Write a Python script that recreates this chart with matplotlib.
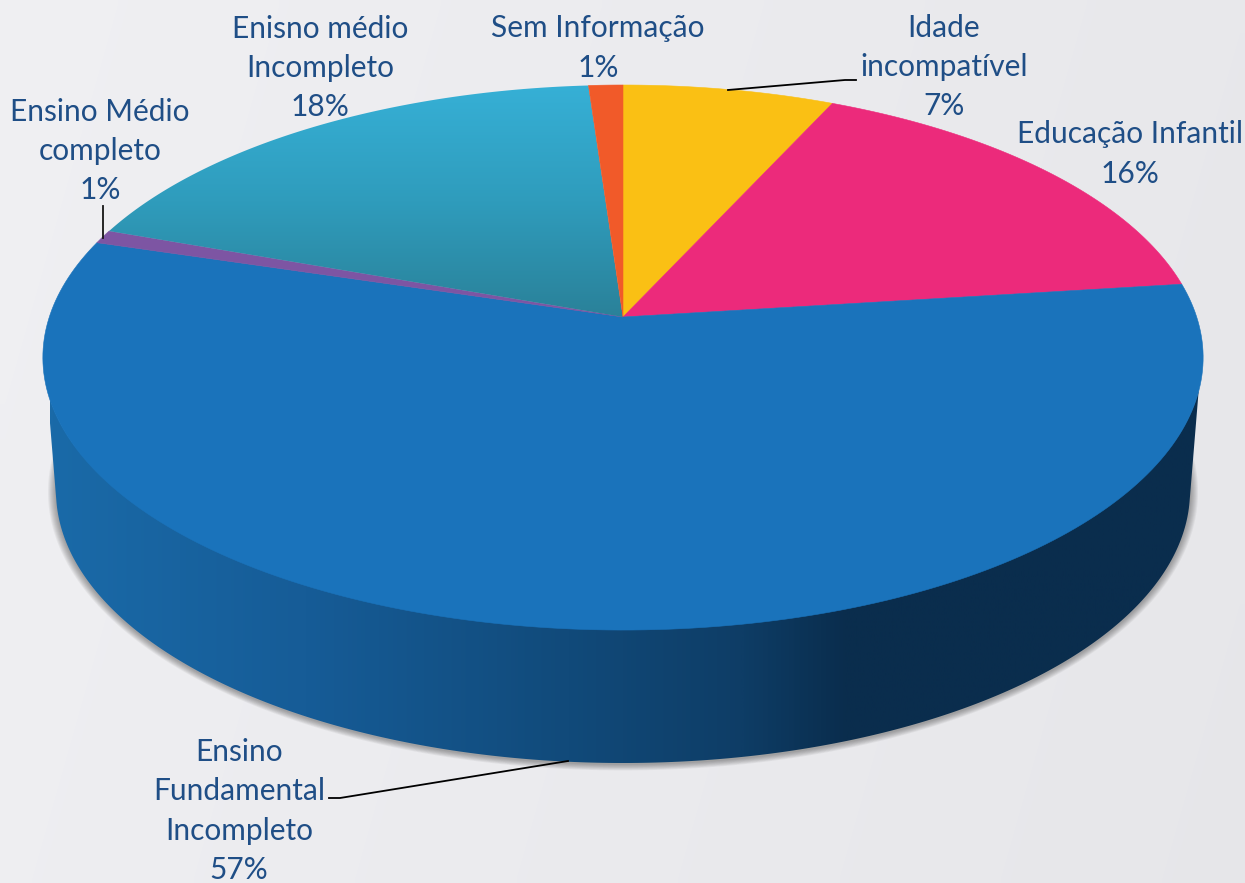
import numpy as np
import matplotlib
matplotlib.use('Agg')
import matplotlib.pyplot as plt
from matplotlib.colors import LinearSegmentedColormap
from matplotlib.patches import Polygon

# clockwise from 12 o'clock
categorias = ['Idade\nincompatível', 'Educação Infantil', 'Ensino\nFundamental\nIncompleto',
              'Ensino Médio\ncompleto', 'Enisno médio\nIncompleto', 'Sem Informação']
valores = [6.8, 16.2, 56.7, 0.8, 18.4, 1.1]
cores = ['#fac014', '#ec2a7b', '#1a73bb', '#7d55a3', '#36b0d6', '#f15a29']

# center of each label block, pixels
pos_label = [(944, 67), (1130, 154), (239, 811), (100, 151), (320, 68), (598, 48)]
TAM_FONTE = 21.5
COR_TEXTO = '#1f4e86'

# picture geometry (pixels)
APEX = (623, 317)
A, B, K = 573.7, 266.5, 0.1487
ELIPSE = (623, 357, 580, 272)
BASE = (623, 491, 567, 272)


def borda(ang):
    # perspective projection of the unit circle, apex is its center
    u, v = np.sin(ang), np.cos(ang)
    d = 1 + K * v
    return APEX[0] + A * u / d, APEX[1] - B * v / d


def elipse(e, t):
    return e[0] + e[2] * np.cos(t), e[1] + e[3] * np.sin(t)


def fundo(ax):
    ny, nx = 90, 125
    yy, xx = np.mgrid[0:1:ny * 1j, 0:1:nx * 1j]
    g = 0.94 - 0.03 * xx - 0.006 * yy
    rgb = np.dstack([g, g, g + 0.012])
    ax.imshow(rgb, extent=(0, 1245, 883, 0), aspect='auto', zorder=0, interpolation='bilinear')


def parede(ax):
    t0 = np.arcsin((390 - ELIPSE[1]) / ELIPSE[3])
    t_sup = np.linspace(np.pi - t0, t0, 300)
    t1 = np.arcsin((500 - BASE[1]) / BASE[3])
    t_inf = np.linspace(t1, np.pi - t1, 300)
    xs, ys = elipse(ELIPSE, t_sup)
    xi, yi = elipse(BASE, t_inf)
    pts = np.column_stack([np.r_[xs, xi], np.r_[ys, yi]])

    # soft shadow under the wall
    for i in range(1, 9):
        e = (BASE[0], BASE[1] + 1, BASE[2] + i, BASE[3] + i * 0.8)
        t = np.linspace(np.arcsin(-0.16), np.pi - np.arcsin(-0.16), 300)
        sx, sy = elipse(e, t)
        ax.add_patch(Polygon(np.column_stack([sx, sy]), closed=True, fc='#303030', ec='none',
                             alpha=0.06, zorder=1))

    cm = LinearSegmentedColormap.from_list('parede', [
        (0.0, '#1a6aa8'), (0.22, '#165c97'), (0.45, '#114a7a'),
        (0.60, '#0e3d66'), (0.69, '#0a2d4d'), (1.0, '#0a2d4d')])
    grad = np.linspace(0, 1, 512).reshape(1, -1)
    im = ax.imshow(grad, extent=(50, 1205, 770, 380), cmap=cm, aspect='auto', zorder=2)
    p = Polygon(pts, closed=True, fc='none', ec='none', transform=ax.transData)
    ax.add_patch(p)
    im.set_clip_path(p)


def fatias(ax):
    lim = np.r_[0, np.cumsum(valores)] / sum(valores) * 2 * np.pi
    for i in range(len(valores)):
        ang = np.linspace(lim[i], lim[i + 1], 200)
        x, y = borda(ang)
        pts = np.column_stack([np.r_[APEX[0], x], np.r_[APEX[1], y]])
        if categorias[i].startswith('Enisno'):
            # this slice fades to a darker teal towards the center
            cm = LinearSegmentedColormap.from_list('teal', ['#36b0d6', '#2f9cbc', '#2a8199'])
            grad = np.linspace(0, 1, 256).reshape(-1, 1)
            im = ax.imshow(grad, extent=(90, 630, 318, 85), cmap=cm, aspect='auto', zorder=3)
            p = Polygon(pts, closed=True, fc='none', ec='none', transform=ax.transData)
            ax.add_patch(p)
            im.set_clip_path(p)
        else:
            ax.add_patch(Polygon(pts, closed=True, fc=cores[i], ec=cores[i], lw=0.4, zorder=3))


def rotulos(ax):
    for nome, v, (x, y) in zip(categorias, valores, pos_label):
        ax.text(x, y, nome + '\n' + str(round(v)) + '%', ha='center', va='center', color=COR_TEXTO,
                fontsize=TAM_FONTE, family='Lato', linespacing=1.49, zorder=6)
    ax.plot([728, 845, 856], [90, 80, 80], color='black', lw=1.3, zorder=5)
    ax.plot([329, 340, 568], [798, 798, 761], color='black', lw=1.3, zorder=5)
    ax.plot([103, 103], [206, 238], color='#151515', lw=1.3, zorder=5)


def main():
    fig = plt.figure(figsize=(12.45, 8.83), dpi=100)
    ax = fig.add_axes([0, 0, 1, 1])
    fundo(ax)
    parede(ax)
    fatias(ax)
    rotulos(ax)
    ax.set_xlim(0, 1245)
    ax.set_ylim(883, 0)
    ax.axis('off')
    fig.savefig('out.png', dpi=100)


if __name__ == '__main__':
    main()
